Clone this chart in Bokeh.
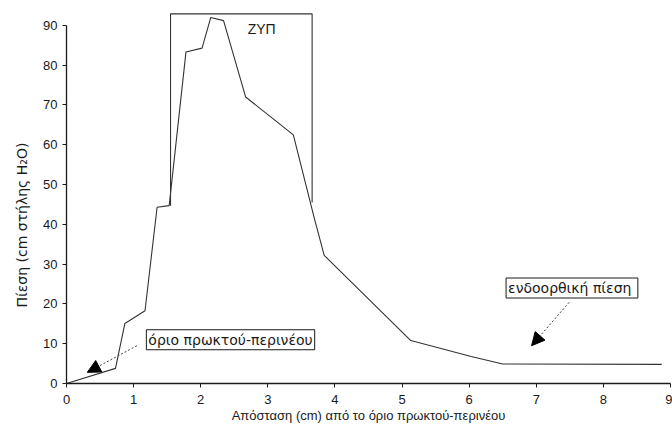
import numpy as np
from bokeh.plotting import figure
from bokeh.models import Label, Arrow, NormalHead, FixedTicker, Range1d, Title
from bokeh.embed import file_html
from bokeh.resources import INLINE

# distance (cm) from anorectal-perineal boundary, pressure (cm H2O)
distance = [0.0, 0.73, 0.87, 1.17, 1.35, 1.53, 1.78, 2.02, 2.15, 2.34, 2.67, 3.38, 3.69, 3.84, 5.13, 6.03, 6.5, 8.87]
pressure = [0.0, 3.8, 15.1, 18.3, 44.3, 44.7, 83.3, 84.3, 92.0, 91.2, 72.0, 62.5, 41.7, 32.2, 10.8, 6.8, 4.9, 4.8]

# high pressure zone (ΖΥΠ) bracket
zyp_x = [1.55, 1.55, 3.66, 3.66]
zyp_y = [44.7, 92.9, 92.9, 45.5]

x_ticks = [0, 1, 2, 3, 4, 5, 6, 7, 8, 9]
y_ticks = [0, 10, 20, 30, 40, 50, 60, 70, 80, 90]

FONT = "Liberation Sans"
FONT2 = "DejaVu Sans"
INK = "#1a1a1a"

p = figure(width=672, height=436, output_backend="svg", toolbar_location=None,
           x_range=Range1d(0, 9), y_range=Range1d(0, 93.5),
           min_border_left=66, min_border_right=2, min_border_top=11, min_border_bottom=53)
p.outline_line_color = None
p.grid.visible = False
p.background_fill_color = "white"
p.border_fill_color = "white"

for ax in (p.xaxis[0], p.yaxis[0]):
    ax.axis_line_color = INK
    ax.axis_line_width = 1.3
    ax.major_tick_line_color = INK
    ax.major_tick_in = 0
    ax.major_tick_out = 4
    ax.minor_tick_line_color = None
    ax.major_label_text_font = FONT
    ax.major_label_text_font_size = "13px"
    ax.major_label_text_color = INK

p.xaxis.ticker = FixedTicker(ticks=x_ticks)
p.yaxis.ticker = FixedTicker(ticks=y_ticks)
p.xaxis.major_label_standoff = 7
p.xaxis.bounds = (0, 9)
p.yaxis.bounds = (0, 90)
p.xaxis.axis_label = "Απόσταση (cm) από το όριο πρωκτού-περινέου"
p.xaxis.axis_label_text_font = FONT
p.xaxis.axis_label_text_font_style = "normal"
p.xaxis.axis_label_text_font_size = "13px"
p.xaxis.axis_label_text_color = INK
p.xaxis.axis_label_standoff = 1

# y title placed as a side title so it can be shifted like in the original
ytitle = Title(text="Πίεση (cm στήλης H₂O)", align="left", offset=76,
               text_font=FONT2, text_font_style="normal", text_font_size="14px",
               text_color=INK, standoff=21)
p.add_layout(ytitle, "left")

p.line(distance, pressure, line_color="#333333", line_width=1.1)
p.line(zyp_x, zyp_y, line_color="#333333", line_width=1.1)

p.add_layout(Label(x=2.70, y=89.2, text="ΖΥΠ", text_font=FONT, text_font_size="14px",
                   text_color=INK, text_baseline="middle"))

p.add_layout(Label(x=1.19, y=11.0, text="όριο πρωκτού-περινέου", text_font=FONT2,
                   text_font_size="14px", text_color=INK, text_baseline="middle",
                   border_line_color=INK, border_line_width=1, background_fill_color="white",
                   padding=2))
p.add_layout(Label(x=6.55, y=24.0, text="ενδοορθική  πίεση", text_font=FONT2,
                   text_font_size="14px", text_color=INK, text_baseline="middle",
                   border_line_color=INK, border_line_width=1, background_fill_color="white",
                   padding=2))

p.add_layout(Arrow(x_start=1.05, y_start=9.5, x_end=0.31, y_end=2.8,
                   line_color="#444444", line_width=1, line_dash="2 2",
                   end=NormalHead(size=13, fill_color="black", line_color="black")))
p.add_layout(Arrow(x_start=7.49, y_start=20.4, x_end=6.93, y_end=9.5,
                   line_color="#444444", line_width=1, line_dash="2 2",
                   end=NormalHead(size=13, fill_color="black", line_color="black")))

open("out.html", "w").write(file_html(p, INLINE))
